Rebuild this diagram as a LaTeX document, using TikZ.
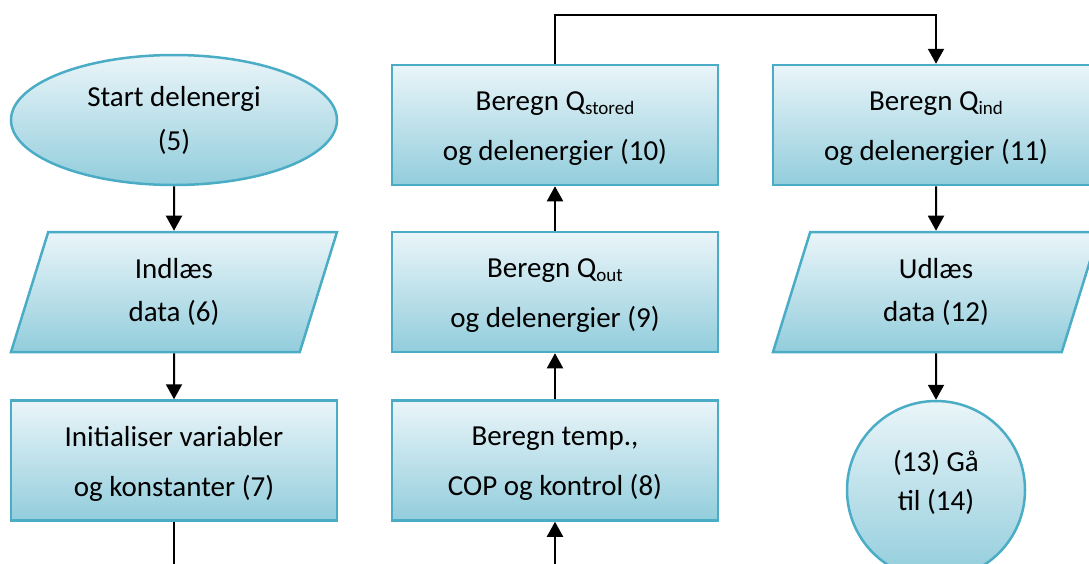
\documentclass[tikz,border=0pt]{standalone}
\usepackage{fontspec}
\setmainfont{Carlito}
\usetikzlibrary{shapes.geometric,arrows.meta}

\definecolor{edgeblue}{RGB}{75,172,198}
\definecolor{filltop}{RGB}{234,245,249}
\definecolor{fillbot}{RGB}{146,205,220}

\newcommand\qsub[1]{\raisebox{-4pt}{\fontsize{19}{19}\selectfont #1}}
% two-line label of width #2, raised by #1 (a centred parbox sits on the math axis)
\newcommand\shifted[3]{\raisebox{#1}[0pt][0pt]{\parbox{#2}{\centering #3}}}

\tikzset{
  shapebase/.style={draw=edgeblue, line width=2.5pt, top color=filltop,
    bottom color=fillbot, align=center, text=black, inner sep=0pt},
  procbox/.style={shapebase, rectangle, minimum width=326pt, minimum height=120pt,
    font=\fontsize{29}{50}\selectfont},
  iobox/.style={shapebase, trapezium, trapezium left angle=61,
    trapezium right angle=119, trapezium stretches body,
    minimum width=326pt, minimum height=120pt,
    font=\fontsize{29}{43}\selectfont},
  startbox/.style={shapebase, ellipse, minimum width=326pt, minimum height=130pt,
    font=\fontsize{29}{44}\selectfont},
  gotobox/.style={shapebase, circle, minimum size=178pt,
    font=\fontsize{29}{39}\selectfont},
  flow/.style={draw=black, line width=2pt},
  arr/.style={flow, -{Triangle[width=16pt,length=15pt]}}
}

\begin{document}
\begin{tikzpicture}[x=1pt, y=-1pt]
  \useasboundingbox (0,0) rectangle (1089,563);
  \clip (0,0) rectangle (1089,563);

  % left column
  \node[startbox] (start) at (174,120) {Start delenergi\\(5)};
  \node[iobox]    (in)    at (174,292) {Indlæs\\data (6)};
  \node[procbox]  (init)  at (174,460.5) {\shifted{-9.75pt}{300pt}{Initialiser variabler\\og konstanter (7)}};

  % middle column
  \node[procbox] (calc) at (555,460.5) {\shifted{-9.75pt}{300pt}{Beregn temp.,\\COP og kontrol (8)}};
  \node[procbox] (qout) at (555,292) {\shifted{-9.75pt}{300pt}{Beregn Q\qsub{out}\\og delenergier (9)}};
  \node[procbox] (qst)  at (555,125) {\shifted{-9.75pt}{300pt}{Beregn Q\qsub{stored}\\og delenergier (10)}};

  % right column
  \node[procbox] (qind) at (936,125) {\shifted{-9.75pt}{300pt}{Beregn Q\qsub{ind}\\og delenergier (11)}};
  \node[iobox]   (out)  at (936,292) {Udlæs\\data (12)};
  \node[gotobox] (goto) at (936,490) {\shifted{1.25pt}{130pt}{(13) Gå\\til (14)}};

  % loose ends at the page edge
  \coordinate (exitL) at (174,570);
  \coordinate (entryM) at (555,570);

  % connectors
  \draw[arr] (start.south) -- (in.north);
  \draw[arr] (in.south) -- (init.north);
  \draw[flow] (init.south) -- (exitL);
  \draw[arr] (entryM) -- (calc.south);
  \draw[arr] (calc.north) -- (qout.south);
  \draw[arr] (qout.north) -- (qst.south);
  \draw[arr] (qst.north) -- ++(0,-49) -| (qind.north);
  \draw[arr] (qind.south) -- (out.north);
  \draw[arr] (out.south) -- (goto.north);
\end{tikzpicture}
\end{document}
